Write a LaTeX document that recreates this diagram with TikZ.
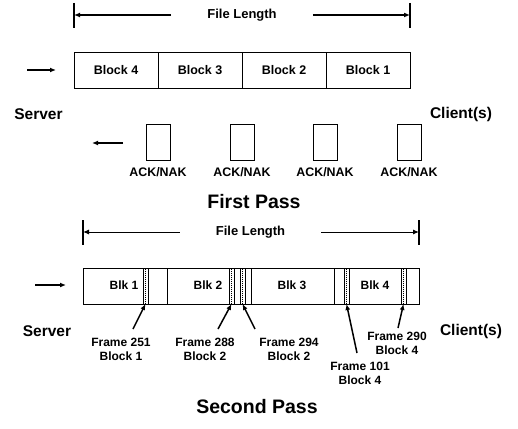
\documentclass[tikz,border=0pt]{standalone}
\usepackage{fontspec}
\setmainfont{Liberation Sans}
\usetikzlibrary{arrows.meta}
\begin{document}
\begin{tikzpicture}[x=1pt,y=-1pt,
  txt/.style={font=\fontsize{#1}{#1}\selectfont\bfseries, inner sep=0pt},
  blockbox/.style={draw, line width=1pt, minimum width=84pt, minimum height=36pt, inner sep=0pt,
     font=\fontsize{12.5}{12.5}\selectfont\bfseries},
  ackbox/.style={draw, line width=1pt, minimum width=24pt, minimum height=36pt, inner sep=0pt},
  dimlabel/.style={font=\fontsize{13}{13}\selectfont\bfseries, inner sep=0pt, inner xsep=36pt},
  arr/.style={-{Latex[length=6pt,width=5pt]}, line width=2pt},
  farr/.style={-{Latex[length=6pt,width=5pt]}, line width=1.5pt},
  framelbl/.style={align=center, font=\fontsize{12}{14}\selectfont\bfseries, inner sep=0pt},
  tick/.style={line width=2pt},
  divider/.style={line width=1pt},
  strip/.style={line width=1pt},
  stripdots/.style={line width=1pt, dash pattern=on 1pt off 1pt}
]
\useasboundingbox (0,0) rectangle (518,428);
\fill[white] (0,0) rectangle (518,428);

% ---------- First pass ----------
\coordinate (t1l) at (74,15);
\coordinate (t1r) at (410,15);
\draw[tick] (74,3) -- (74,28);
\draw[tick] (410,3) -- (410,28);
\node[dimlabel] (fl1) at (242,15) {File Length};
\draw[arr] (fl1.west) -- (t1l);
\draw[arr] (fl1.east) -- (t1r);

\node[blockbox] (b4) at (116,70) {Block 4};
\node[blockbox] (b3) at (200,70) {Block 3};
\node[blockbox] (b2) at (284,70) {Block 2};
\node[blockbox] (b1) at (368,70) {Block 1};

\coordinate (ra1) at (27,70);
\coordinate (ra2) at (56,70);
\draw[arr] (ra1) -- (ra2);

\node[txt=15.5] (srv1) at (38.5,114) {Server};
\node[txt=15.5] (cli1) at (461,114) {Client(s)};

\node[ackbox] (k1) at (158,142) {};
\node[ackbox] (k2) at (242,142) {};
\node[ackbox] (k3) at (325,142) {};
\node[ackbox] (k4) at (409,142) {};
\node[txt=12.4] (kl1) at (158,172) {ACK/NAK};
\node[txt=12.4] (kl2) at (242,172) {ACK/NAK};
\node[txt=12.4] (kl3) at (325,172) {ACK/NAK};
\node[txt=12.4] (kl4) at (409,172) {ACK/NAK};

\coordinate (la1) at (123,143);
\coordinate (la2) at (92,143);
\draw[arr] (la1) -- (la2);

\node[txt=19.5] (fp) at (254,202) {First Pass};

% ---------- Second pass ----------
\coordinate (t2l) at (83,232);
\coordinate (t2r) at (419,232);
\draw[tick] (83,220) -- (83,245);
\draw[tick] (419,220) -- (419,245);
\node[dimlabel] (fl2) at (250.5,232) {File Length};
\draw[-{Latex[length=6pt,width=5pt]}, line width=1pt] (fl2.west) -- (t2l);
\draw[-{Latex[length=6pt,width=5pt]}, line width=1pt] (fl2.east) -- (t2r);

\node[draw, line width=1pt, minimum width=336pt, minimum height=36pt, inner sep=0pt] (bar) at (251,286) {};
\draw[divider] (167,268) -- (167,304);
\draw[divider] (251,268) -- (251,304);
\draw[divider] (334,268) -- (334,304);

\foreach \sx/\nm in {143/s1, 229/s2, 240/s3, 344/s4, 401/s5} {
  \draw[strip] (\sx,268) -- (\sx,304);
  \draw[strip] (\sx+5,268) -- (\sx+5,304);
  \draw[stripdots] (\sx+2.5,268.5) -- (\sx+2.5,304);
  \coordinate (\nm) at (\sx+2.5,304);
}

\node[txt=12] (blk1) at (124,285) {Blk 1};
\node[txt=12] (blk2) at (208,285) {Blk 2};
\node[txt=12] (blk3) at (292,285) {Blk 3};
\node[txt=12] (blk4) at (375,285) {Blk 4};

\coordinate (ra3) at (35,285);
\coordinate (ra4) at (66,285);
\draw[arr] (ra3) -- (ra4);

\node[txt=15.5] (srv2) at (47,331) {Server};
\node[txt=15.5] (cli2) at (471,331) {Client(s)};

\node[framelbl] (f251) at (121,349) {Frame 251\\Block 1};
\node[framelbl] (f288) at (205,349) {Frame 288\\Block 2};
\node[framelbl] (f294) at (289,349) {Frame 294\\Block 2};
\node[framelbl] (f101) at (360,373) {Frame 101\\Block 4};
\node[framelbl] (f290) at (397,343) {Frame 290\\Block 4};

\coordinate (a251) at (133,329);
\coordinate (a288) at (218,329);
\coordinate (a294) at (255,329);
\coordinate (a101) at (357,353);
\coordinate (a290) at (398,328);
\draw[farr] (a251) -- (s1);
\draw[farr] (a288) -- (s2);
\draw[farr] (a294) -- (s3);
\draw[farr] (a101) -- (s4);
\draw[farr] (a290) -- (s5);

\node[txt=19.5] (sp) at (257,407) {Second Pass};
\end{tikzpicture}
\end{document}
